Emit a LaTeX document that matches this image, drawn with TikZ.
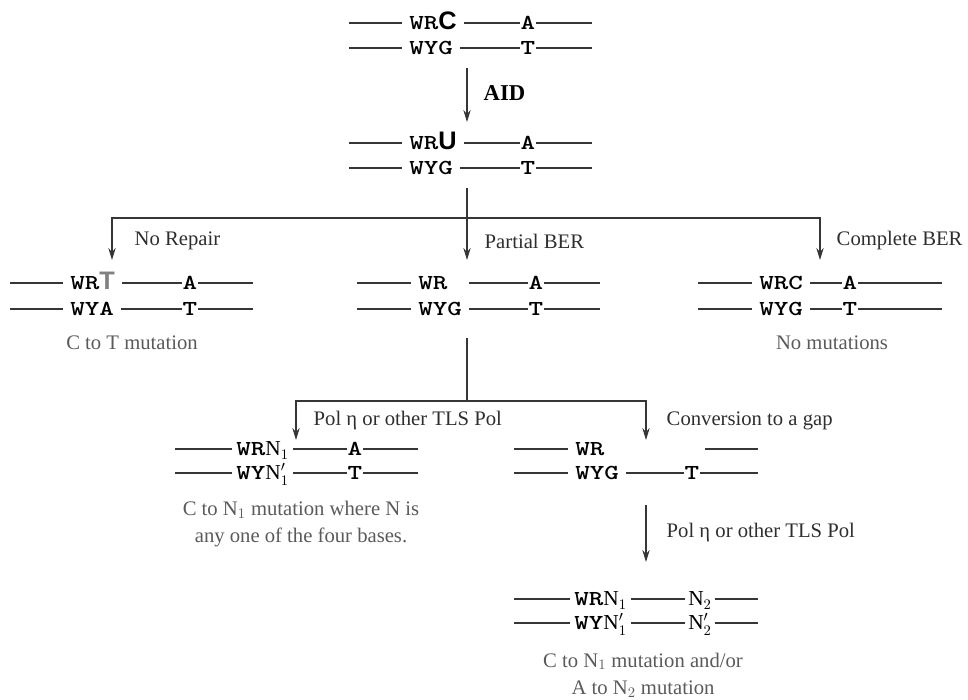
\documentclass[tikz,border=0pt]{standalone}
\usepackage{fontspec}
\setmainfont{Liberation Serif}
\setsansfont{Liberation Sans}
\newfontfamily\dnafont[FakeStretch=1.3]{lmmonolt10-bold.otf}
\usetikzlibrary{arrows.meta, positioning}
\definecolor{linegray}{HTML}{363636}
\definecolor{capgray}{HTML}{5A5A5A}

\begin{document}
\begin{tikzpicture}[x=0.75pt, y=-0.75pt,
        strand/.style={draw=linegray, line width=1.1pt},
        seq/.style={anchor=west, inner xsep=5.25pt, inner ysep=0pt, text height=10pt, text depth=0pt, font=\fontsize{16}{16}\dnafont},
        base/.style={inner xsep=0.6pt, inner ysep=0pt, text height=10pt, text depth=0pt, font=\fontsize{16}{16}\dnafont},
        link/.style={draw=linegray, line width=0.9pt},
        flow/.style={link, -{Stealth[length=9pt, width=5.5pt]}},
        route/.style={anchor=west, font=\fontsize{15.5}{18}\selectfont, text=black!82},
        caption/.style={align=center, font=\fontsize{15.5}{20.5}\selectfont, text=capgray}
    ]
        \useasboundingbox (0,0) rectangle (968,700);

        % Starting duplex
        \coordinate (t1l) at (349,23); \coordinate (t1r) at (592,23);
        \coordinate (t2l) at (349,48); \coordinate (t2r) at (592,48);
        \node[seq] (t1s) at (402,23) {WR{\sffamily\bfseries\fontsize{19}{19}\selectfont C}};
        \node[base] (t1b) at (528,23) {A};
        \node[seq] (t2s) at (402,48) {WYG};
        \node[base] (t2b) at (528,48) {T};
        \draw[strand] (t1l) -- (t1s.west) (t1s.east) -- (t1b.west) (t1b.east) -- (t1r);
        \draw[strand] (t2l) -- (t2s.west) (t2s.east) -- (t2b.west) (t2b.east) -- (t2r);

        % AID step
        \coordinate (aidtop) at (467,68);
        \coordinate (aidend) at (467,122);
        \draw[flow] (aidtop) -- (aidend);
        \node[route, font=\fontsize{17}{17}\selectfont\bfseries, text=black] (aid) at (479,93) {AID};

        % Uracil duplex
        \coordinate (u1l) at (349,143); \coordinate (u1r) at (592,143);
        \coordinate (u2l) at (349,168); \coordinate (u2r) at (592,168);
        \node[seq] (u1s) at (402,143) {WR{\sffamily\bfseries\fontsize{19}{19}\selectfont U}};
        \node[base] (u1b) at (528,143) {A};
        \node[seq] (u2s) at (402,168) {WYG};
        \node[base] (u2b) at (528,168) {T};
        \draw[strand] (u1l) -- (u1s.west) (u1s.east) -- (u1b.west) (u1b.east) -- (u1r);
        \draw[strand] (u2l) -- (u2s.west) (u2s.east) -- (u2b.west) (u2b.east) -- (u2r);

        % First branching
        \coordinate (br1) at (467,188);
        \coordinate (j1) at (467,218);
        \coordinate (nin) at (112,260);
        \coordinate (pin) at (467,260);
        \coordinate (cin) at (820,260);
        \draw[link] (br1) -- (j1);
        \draw[flow] (j1) -| (nin);
        \draw[flow] (j1) -- (pin);
        \draw[flow] (j1) -| (cin);
        \node[route] (norep) at (130,241) {No Repair};
        \node[route] (partber) at (480,241) {Partial BER};
        \node[route] (compber) at (832,241) {Complete BER};

        % No Repair
        \coordinate (n1l) at (10,283); \coordinate (n1r) at (253,283);
        \coordinate (n2l) at (10,309); \coordinate (n2r) at (253,309);
        \node[seq] (n1s) at (63,283) {WR{\sffamily\bfseries\fontsize{19}{19}\selectfont\color{gray}T}};
        \node[base] (n1b) at (190,283) {A};
        \node[seq] (n2s) at (63,309) {WYA};
        \node[base] (n2b) at (190,309) {T};
        \draw[strand] (n1l) -- (n1s.west) (n1s.east) -- (n1b.west) (n1b.east) -- (n1r);
        \draw[strand] (n2l) -- (n2s.west) (n2s.east) -- (n2b.west) (n2b.east) -- (n2r);
        \node[caption] (ncap) at (132,343) {C to T mutation};

        % Partial BER
        \coordinate (p1l) at (357,283); \coordinate (p1r) at (600,283);
        \coordinate (p2l) at (357,309); \coordinate (p2r) at (600,309);
        \node[seq] (p1s) at (411,283) {WR\phantom{G}};
        \node[base] (p1b) at (536,283) {A};
        \node[seq] (p2s) at (411,309) {WYG};
        \node[base] (p2b) at (536,309) {T};
        \draw[strand] (p1l) -- (p1s.west) (p1s.east) -- (p1b.west) (p1b.east) -- (p1r);
        \draw[strand] (p2l) -- (p2s.west) (p2s.east) -- (p2b.west) (p2b.east) -- (p2r);

        % Complete BER
        \coordinate (c1l) at (698,283); \coordinate (c1r) at (942,283);
        \coordinate (c2l) at (698,309); \coordinate (c2r) at (942,309);
        \node[seq] (c1s) at (752,283) {WRC};
        \node[base] (c1b) at (850,283) {A};
        \node[seq] (c2s) at (752,309) {WYG};
        \node[base] (c2b) at (850,309) {T};
        \draw[strand] (c1l) -- (c1s.west) (c1s.east) -- (c1b.west) (c1b.east) -- (c1r);
        \draw[strand] (c2l) -- (c2s.west) (c2s.east) -- (c2b.west) (c2b.east) -- (c2r);
        \node[caption] (ccap) at (832,343) {No mutations};

        % Second branching
        \coordinate (br2) at (467,338);
        \coordinate (j2) at (467,401);
        \coordinate (hin) at (296,440);
        \coordinate (gin) at (646,440);
        \draw[link] (br2) -- (j2);
        \draw[flow] (j2) -| (hin);
        \draw[flow] (j2) -| (gin);
        \node[route] (poleta) at (309,421) {Pol η or other TLS Pol};
        \node[route] (convgap) at (662,421) {Conversion to a gap};

        % TLS polymerase
        \coordinate (h1l) at (175,449); \coordinate (h1r) at (418,449);
        \coordinate (h2l) at (175,473); \coordinate (h2r) at (418,473);
        \node[seq, inner xsep=3pt] (h1s) at (232,449) {WR{\rmfamily N$_1$}};
        \node[base] (h1b) at (355,449) {A};
        \node[seq, inner xsep=3pt] (h2s) at (232,473) {WY{\rmfamily N$'_1$}};
        \node[base] (h2b) at (355,473) {T};
        \draw[strand] (h1l) -- (h1s.west) (h1s.east) -- (h1b.west) (h1b.east) -- (h1r);
        \draw[strand] (h2l) -- (h2s.west) (h2s.east) -- (h2b.west) (h2b.east) -- (h2r);
        \node[caption] (hcap) at (301,524) {C to N$_1$ mutation where N is\\any one of the four bases.};

        % Gap
        \coordinate (g1l) at (514,449); \coordinate (g1m) at (705,449); \coordinate (g1r) at (758,449);
        \coordinate (g2l) at (514,473); \coordinate (g2r) at (758,473);
        \node[seq] (g1s) at (568,449) {WR\phantom{G}};
        \node[seq] (g2s) at (568,473) {WYG};
        \node[base] (g2b) at (692,473) {T};
        \draw[strand] (g1l) -- (g1s.west) (g1m) -- (g1r);
        \draw[strand] (g2l) -- (g2s.west) (g2s.east) -- (g2b.west) (g2b.east) -- (g2r);

        % Gap filling
        \coordinate (gout) at (646,505);
        \coordinate (fin) at (646,562);
        \draw[flow] (gout) -- (fin);
        \node[route] (poleta2) at (662,533) {Pol η or other TLS Pol};

        % Final duplex
        \coordinate (f1l) at (514,599); \coordinate (f1r) at (758,599);
        \coordinate (f2l) at (514,623); \coordinate (f2r) at (758,623);
        \node[seq, inner xsep=3pt] (f1s) at (570,599) {WR{\rmfamily N$_1$}};
        \node[base, inner xsep=2pt] (f1b) at (700,599) {\rmfamily N$_2$};
        \node[seq, inner xsep=3pt] (f2s) at (570,623) {WY{\rmfamily N$'_1$}};
        \node[base, inner xsep=2pt] (f2b) at (700,623) {\rmfamily N$'_2$};
        \draw[strand] (f1l) -- (f1s.west) (f1s.east) -- (f1b.west) (f1b.east) -- (f1r);
        \draw[strand] (f2l) -- (f2s.west) (f2s.east) -- (f2b.west) (f2b.east) -- (f2r);
        \node[caption] (fcap) at (643,675) {C to N$_1$ mutation and/or\\A to N$_2$ mutation};

    \end{tikzpicture}
\end{document}
